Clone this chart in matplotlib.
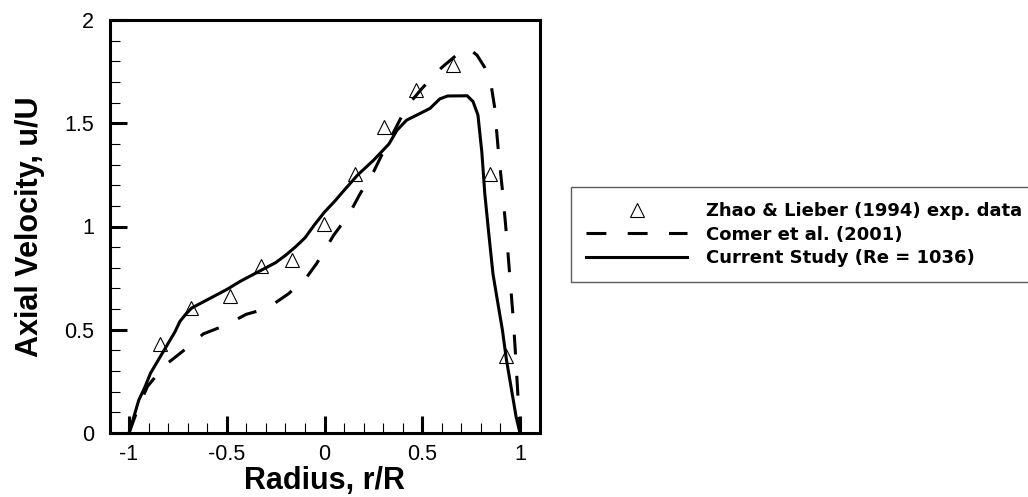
import matplotlib
matplotlib.use("Agg")
import matplotlib.pyplot as plt
from matplotlib.ticker import MultipleLocator, FuncFormatter

plt.rcParams['font.family'] = ['Liberation Sans', 'DejaVu Sans']
plt.rcParams['axes.unicode_minus'] = False

# Zhao & Lieber (1994) experimental points
exp_r = [-0.842, -0.685, -0.484, -0.323, -0.166, -0.004, 0.157, 0.302, 0.469, 0.656, 0.847, 0.929]
exp_u = [0.433, 0.603, 0.662, 0.809, 0.840, 1.011, 1.254, 1.483, 1.661, 1.782, 1.254, 0.372]

# Comer et al. (2001) profile
comer_r = [-1.0, -0.95, -0.906, -0.85, -0.80, -0.72, -0.62, -0.506, -0.40, -0.294, -0.183,
           -0.09, -0.04, 0.047, 0.123, 0.183, 0.251, 0.30, 0.35, 0.42, 0.50, 0.60, 0.70,
           0.74, 0.78, 0.82, 0.85, 0.87, 0.89, 0.912, 0.932, 0.949, 0.966, 0.980, 0.992, 1.0]
comer_u = [0.0, 0.13, 0.225, 0.29, 0.34, 0.40, 0.48, 0.522, 0.575, 0.603, 0.675,
           0.756, 0.821, 0.958, 1.055, 1.16, 1.265, 1.36, 1.45, 1.58, 1.67, 1.77, 1.85,
           1.86, 1.83, 1.77, 1.70, 1.58, 1.36, 1.16, 0.95, 0.75, 0.55, 0.34, 0.14, 0.0]

# Current study (Re = 1036) profile
curr_r = [-1.0, -0.975, -0.95, -0.92, -0.89, -0.84, -0.79, -0.765, -0.74, -0.71, -0.68,
          -0.63, -0.57, -0.50, -0.43, -0.36, -0.30, -0.25, -0.20, -0.15, -0.10, -0.05,
          0.0, 0.05, 0.10, 0.17, 0.25, 0.33, 0.37, 0.42, 0.49, 0.54, 0.59, 0.63, 0.73,
          0.76, 0.785, 0.795, 0.805, 0.82, 0.84, 0.862, 0.885, 0.91, 0.93, 0.955, 0.98, 1.0]
curr_u = [0.0, 0.08, 0.16, 0.22, 0.29, 0.37, 0.45, 0.49, 0.54, 0.575, 0.605,
          0.63, 0.66, 0.695, 0.735, 0.77, 0.80, 0.825, 0.86, 0.90, 0.945, 1.01,
          1.07, 1.12, 1.175, 1.25, 1.32, 1.40, 1.465, 1.515, 1.548, 1.572, 1.618, 1.632, 1.633,
          1.605, 1.54, 1.45, 1.36, 1.16, 0.97, 0.77, 0.64, 0.50, 0.36, 0.22, 0.08, 0.0]

labels = ["Zhao & Lieber (1994) exp. data", "Comer et al. (2001)", "Current Study (Re = 1036)"]

fig = plt.figure(figsize=(10.28, 4.97), dpi=100)
ax = fig.add_axes([109.5 / 1028, 1 - 433 / 497, 430 / 1028, 413 / 497])

h_exp, = ax.plot(exp_r, exp_u, linestyle='none', marker='^', markersize=9.5,
                 markerfacecolor='white', markeredgecolor='black', markeredgewidth=0.8,
                 zorder=2, label=labels[0])
h_com, = ax.plot(comer_r, comer_u, color='black', linewidth=2.2, dashes=[6.5, 7.0],
                 zorder=3, label=labels[1])
h_cur, = ax.plot(curr_r, curr_u, color='black', linewidth=2.2, zorder=4, label=labels[2])

ax.set_xlim(-1.1, 1.1)
ax.set_ylim(0, 2)

ax.xaxis.set_major_locator(MultipleLocator(0.5))
ax.xaxis.set_minor_locator(MultipleLocator(0.1))
ax.yaxis.set_major_locator(MultipleLocator(0.5))
ax.yaxis.set_minor_locator(MultipleLocator(0.1))
fmt = FuncFormatter(lambda v, p: f"{v:g}")
ax.xaxis.set_major_formatter(fmt)
ax.yaxis.set_major_formatter(fmt)

ax.tick_params(which='both', direction='in', top=False, right=False, labelsize=15.5)
ax.tick_params(which='major', length=12, width=2.2)
ax.tick_params(which='minor', length=7, width=0.8)
ax.tick_params(axis='x', which='major', pad=8)
ax.tick_params(axis='y', which='major', pad=11)

for s in ax.spines.values():
    s.set_linewidth(2.2)

ax.set_xlabel("Radius, r/R", fontsize=22, fontweight='bold', labelpad=1)
ax.set_ylabel("Axial Velocity, u/U", fontsize=22, fontweight='bold', labelpad=14)

leg = fig.legend(handles=[h_exp, h_com, h_cur], labels=labels,
                 loc='upper left', bbox_to_anchor=(571 / 1028, 1 - 187 / 497),
                 prop={'family': 'DejaVu Sans', 'weight': 'bold', 'size': 13},
                 frameon=True, fancybox=False, shadow=False,
                 borderpad=0.84, labelspacing=0.3, handlelength=5.6,
                 handletextpad=1.04, borderaxespad=0)
leg.get_frame().set_edgecolor('#333333')
leg.get_frame().set_linewidth(1.0)

fig.savefig("out.png", dpi=100)
